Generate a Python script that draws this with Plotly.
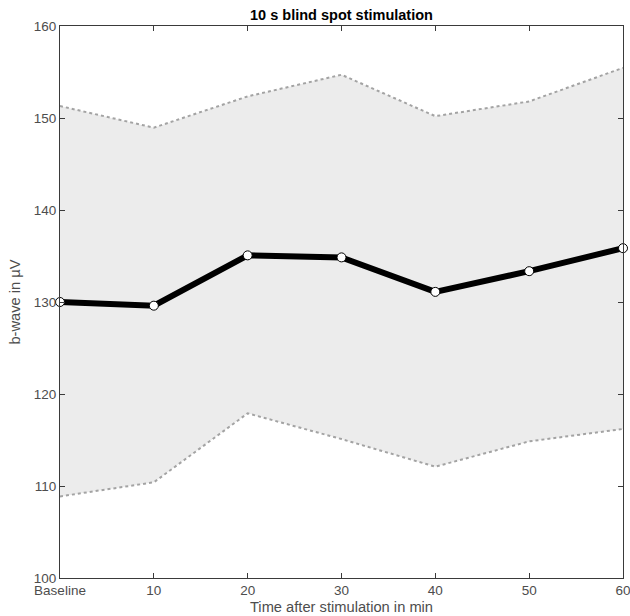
import plotly.graph_objects as go

x_vals = [0, 10, 20, 30, 40, 50, 60]
x_tick_labels = ["Baseline", "10", "20", "30", "40", "50", "60"]
mean_vals = [130.0, 129.6, 135.07, 134.85, 131.1, 133.35, 135.85]
upper_vals = [151.3, 148.95, 152.35, 154.7, 150.2, 151.8, 155.45]
lower_vals = [108.87, 110.4, 117.9, 115.1, 112.1, 114.85, 116.2]
y_ticks = [100, 110, 120, 130, 140, 150, 160]

FONT = "Liberation Sans, Arial, Helvetica, sans-serif"

W, H = 630, 616

fig = go.Figure()
fig.add_trace(go.Scatter(x=x_vals, y=lower_vals, mode="lines",
                         line=dict(color="#a3a3a3", width=2, dash="dot"),
                         showlegend=False, hoverinfo="skip"))
fig.add_trace(go.Scatter(x=x_vals, y=upper_vals, mode="lines", fill="tonexty",
                         fillcolor="#ececec",
                         line=dict(color="#a3a3a3", width=2, dash="dot"),
                         showlegend=False, hoverinfo="skip"))
fig.add_trace(go.Scatter(x=x_vals, y=mean_vals, mode="lines+markers",
                         line=dict(color="black", width=6),
                         marker=dict(size=9, color="white", line=dict(color="black", width=1)),
                         cliponaxis=False, showlegend=False))

axis_common = dict(showgrid=False, zeroline=False, showline=True, linecolor="#3a3a3a",
                   linewidth=1, mirror="ticks", ticks="inside", ticklen=5,
                   tickcolor="#3a3a3a", automargin=False, ticklabeloverflow="allow",
                   tickfont=dict(family=FONT, size=13.5, color="#4d4d4d"))

fig.update_layout(
    width=W, height=H,
    margin=dict(l=60, r=7, t=26, b=38),
    paper_bgcolor="white", plot_bgcolor="white",
    title=dict(text="<b>10 s blind spot stimulation</b>", x=0.5, xref="paper",
               y=1 - 15 / H, yref="container", yanchor="middle", xanchor="center",
               font=dict(family=FONT, size=14.5, color="black")),
    xaxis=dict(range=[0, 60], tickvals=x_vals, ticktext=x_tick_labels,
               title=dict(text="Time after stimulation in min", standoff=4,
                          font=dict(family=FONT, size=14.7, color="#4d4d4d")),
               **axis_common),
    yaxis=dict(range=[100, 160], tickvals=y_ticks,
               title=dict(text="b-wave in µV", standoff=9,
                          font=dict(family=FONT, size=14.7, color="#4d4d4d")),
               **axis_common),
)

fig.write_html("out.html",
               config={"displayModeBar": False},
               post_script="document.body.style.margin='0';document.body.style.overflow='hidden';")
